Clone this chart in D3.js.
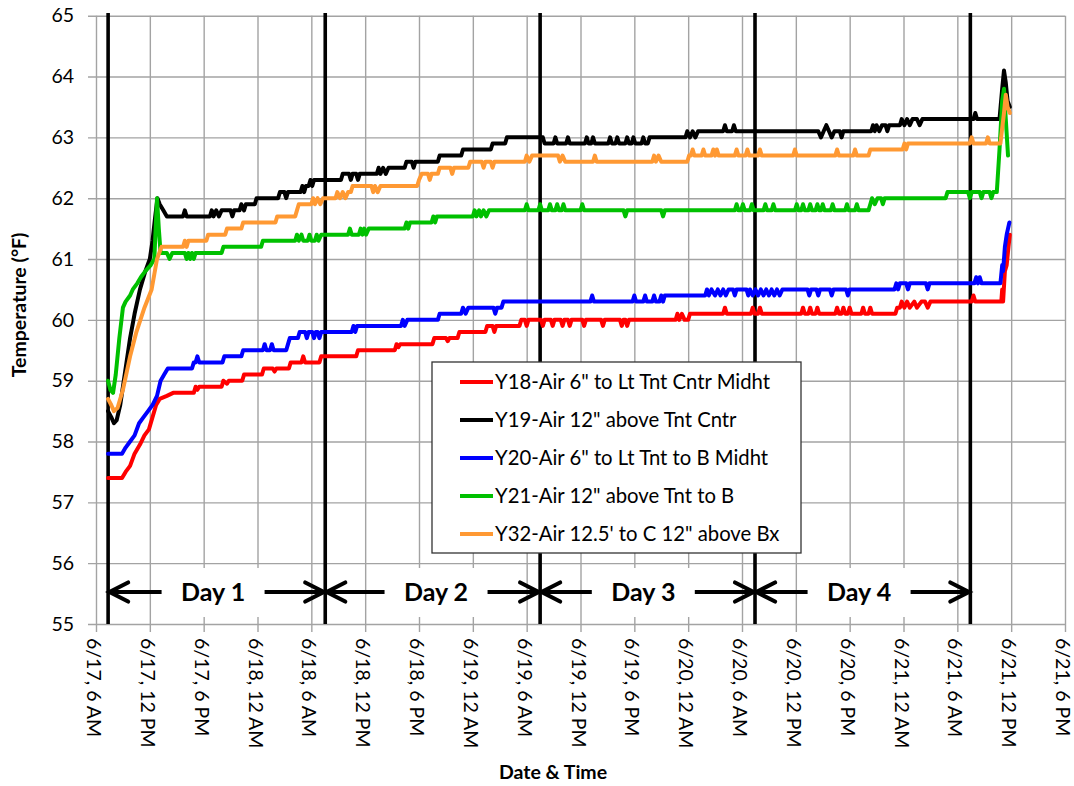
<!DOCTYPE html>
<html><head><meta charset="utf-8">
<script src="https://cdn.jsdelivr.net/npm/d3@7"></script>
<style>
body{margin:0;background:#fff}
svg{display:block}
text{font-family:Lato,"Open Sans",sans-serif;fill:#000}
</style>
</head><body>
<svg id="chart" width="1074" height="786"></svg>
<script>
// ---------- DATA (hours since 6/17 6 AM, °F) ----------
const tickLabels = ["6/17, 6 AM","6/17, 12 PM","6/17, 6 PM","6/18, 12 AM","6/18, 6 AM","6/18, 12 PM","6/18, 6 PM",
  "6/19, 12 AM","6/19, 6 AM","6/19, 12 PM","6/19, 6 PM","6/20, 12 AM","6/20, 6 AM","6/20, 12 PM","6/20, 6 PM",
  "6/21, 12 AM","6/21, 6 AM","6/21, 12 PM","6/21, 6 PM"];
const yTickValues = [55,56,57,58,59,60,61,62,63,64,65];
const seriesNames = ["Y18-Air 6\" to Lt Tnt Cntr Midht","Y19-Air 12\" above Tnt Cntr","Y20-Air 6\" to Lt Tnt to B Midht",
  "Y21-Air 12\" above Tnt to B","Y32-Air 12.5' to C 12\" above Bx"];
const seriesColors = ["#ff0000","#000000","#0000ff","#00c000","#ff9933"];
const dayLabels = ["Day 1","Day 2","Day 3","Day 4"];
const dayBoundaryHours = [1.35, 25.55, 49.5, 73.45, 97.45];
const dayLabelHours = [13.05, 37.9, 61.0, 85.05];

const y18 = [[1.34,57.4],[2.9,57.4],[3.3,57.5],[3.8,57.6],[4.3,57.8],[4.9,57.95],[5.4,58.1],[5.9,58.2],[6.3,58.4],[6.7,58.6],[7.1,58.7],[7.9,58.75],[8.6,58.8],[10.9,58.8],[11.1,58.9],[11.3,58.85],[11.5,58.9],[14.0,58.9],[14.2,59.0],[14.6,58.95],[14.8,59.0],[16.3,59.0],[16.5,59.1],[18.5,59.1],[18.7,59.2],[19.7,59.2],[19.9,59.15],[20.1,59.2],[21.5,59.2],[21.7,59.3],[22.9,59.3],[23.1,59.4],[23.3,59.3],[24.9,59.3],[25.1,59.4],[29.0,59.4],[29.2,59.5],[33.3,59.5],[33.5,59.6],[33.7,59.55],[33.9,59.6],[37.5,59.6],[37.7,59.7],[39.0,59.7],[39.2,59.65],[39.4,59.7],[40.3,59.7],[40.5,59.8],[43.4,59.8],[43.6,59.9],[44.2,59.9],[44.4,59.8],[44.6,59.9],[47.2,59.9],[47.4,60.0],[47.8,60.0],[48.0,59.9],[48.2,60.0],[49.6,60.0],[49.8,59.9],[50.0,60.0],[50.7,60.0],[50.9,59.9],[51.1,60.0],[51.8,60.0],[52.0,59.9],[52.2,60.0],[52.6,60.0],[52.8,59.9],[53.0,60.0],[54.2,60.0],[54.4,59.9],[54.6,60.0],[56.3,60.0],[56.5,59.9],[56.7,60.0],[58.4,60.0],[58.6,59.9],[58.8,60.0],[59.0,60.0],[59.2,59.9],[59.4,60.0],[64.6,60.0],[64.8,60.1],[65.0,60.0],[65.3,60.1],[65.6,60.0],[66.0,60.0],[66.2,60.1],[69.9,60.1],[70.1,60.2],[70.3,60.1],[73.0,60.1],[73.2,60.2],[73.4,60.1],[73.8,60.1],[74.0,60.2],[74.2,60.1],[78.6,60.1],[78.8,60.2],[79.0,60.1],[79.4,60.1],[79.6,60.2],[79.8,60.1],[80.2,60.1],[80.4,60.2],[80.6,60.1],[82.4,60.1],[82.6,60.2],[82.8,60.1],[83.1,60.1],[83.3,60.2],[83.5,60.1],[83.8,60.1],[84.0,60.2],[84.2,60.1],[85.3,60.1],[85.5,60.2],[85.7,60.1],[86.1,60.1],[86.3,60.2],[86.5,60.1],[89.1,60.1],[89.3,60.2],[89.6,60.2],[89.8,60.3],[90.1,60.2],[90.4,60.3],[90.7,60.2],[91.2,60.3],[91.5,60.2],[92.0,60.3],[92.4,60.3],[92.7,60.2],[93.0,60.3],[97.6,60.3],[97.8,60.4],[98.0,60.3],[100.9,60.3],[101.0,60.5],[101.1,60.3],[101.3,60.8],[101.5,60.9],[101.7,61.2],[101.85,61.4]];

const y19 = [[1.34,58.5],[1.7,58.4],[2.0,58.3],[2.3,58.35],[2.7,58.6],[3.2,59.1],[3.8,59.7],[4.3,60.1],[4.9,60.5],[5.5,60.8],[6.0,61.0],[6.3,61.3],[6.6,61.7],[6.85,62.0],[7.1,61.9],[7.5,61.8],[7.9,61.7],[9.7,61.7],[9.9,61.8],[10.1,61.7],[12.7,61.7],[12.9,61.8],[13.1,61.7],[13.4,61.8],[13.7,61.7],[14.0,61.8],[15.0,61.8],[15.2,61.7],[15.4,61.8],[16.0,61.8],[16.2,61.9],[16.5,61.8],[16.7,61.9],[17.7,61.9],[17.9,62.0],[20.3,62.0],[20.5,62.1],[21.0,62.1],[21.2,62.0],[21.4,62.1],[22.8,62.1],[23.0,62.2],[23.2,62.1],[23.4,62.2],[23.7,62.2],[23.9,62.3],[24.1,62.2],[24.3,62.3],[27.3,62.3],[27.5,62.4],[28.2,62.4],[28.4,62.3],[28.6,62.4],[29.0,62.4],[29.2,62.3],[29.4,62.4],[31.3,62.4],[31.5,62.5],[31.7,62.4],[32.0,62.5],[32.3,62.4],[32.6,62.5],[34.4,62.5],[34.6,62.6],[35.2,62.6],[35.4,62.5],[35.6,62.6],[38.1,62.6],[38.3,62.7],[40.7,62.7],[40.9,62.8],[44.0,62.8],[44.2,62.9],[45.6,62.9],[45.8,63.0],[49.8,63.0],[50.0,62.9],[51.0,62.9],[51.2,63.0],[51.4,62.9],[52.4,62.9],[52.6,63.0],[52.8,62.9],[54.5,62.9],[54.7,63.0],[54.9,62.9],[55.2,62.9],[55.4,63.0],[55.6,62.9],[57.1,62.9],[57.3,63.0],[57.5,62.9],[57.9,62.9],[58.1,63.0],[58.3,62.9],[59.0,62.9],[59.2,63.0],[59.4,62.9],[59.7,62.9],[59.9,63.0],[60.1,62.9],[60.8,62.9],[61.0,63.0],[61.2,62.9],[61.5,62.9],[61.7,63.0],[65.7,63.0],[65.9,63.1],[66.2,63.0],[66.5,63.1],[66.8,63.0],[67.1,63.1],[69.9,63.1],[70.1,63.2],[70.3,63.1],[70.9,63.1],[71.1,63.2],[71.3,63.1],[80.5,63.1],[80.8,63.0],[81.1,63.1],[81.4,63.2],[81.7,63.1],[82.0,63.0],[82.3,63.1],[82.9,63.1],[83.1,63.0],[83.3,63.1],[86.4,63.1],[86.6,63.2],[86.8,63.1],[87.0,63.2],[87.3,63.1],[87.6,63.2],[88.0,63.2],[88.2,63.1],[88.4,63.2],[89.6,63.2],[89.8,63.3],[90.1,63.2],[90.4,63.3],[90.7,63.2],[91.0,63.3],[91.5,63.3],[91.8,63.2],[92.1,63.3],[97.8,63.3],[98.0,63.4],[98.2,63.3],[100.7,63.3],[101.0,63.8],[101.2,64.1],[101.4,63.9],[101.6,63.6],[101.85,63.5]];

const y20 = [[1.34,57.8],[2.9,57.8],[3.3,57.9],[3.8,58.0],[4.3,58.1],[4.8,58.3],[5.3,58.4],[5.8,58.5],[6.3,58.6],[6.8,58.75],[7.2,59.0],[7.6,59.1],[8.0,59.2],[10.7,59.2],[10.9,59.3],[11.1,59.3],[11.3,59.4],[11.5,59.3],[14.1,59.3],[14.3,59.4],[16.2,59.4],[16.4,59.5],[18.6,59.5],[18.8,59.6],[19.0,59.5],[19.4,59.5],[19.6,59.6],[19.8,59.5],[21.2,59.5],[21.4,59.6],[21.6,59.7],[22.5,59.7],[22.7,59.8],[23.3,59.8],[23.5,59.7],[23.7,59.8],[24.1,59.8],[24.3,59.7],[24.5,59.8],[24.7,59.8],[24.9,59.7],[25.1,59.8],[28.5,59.8],[28.7,59.9],[28.9,59.8],[29.1,59.9],[34.0,59.9],[34.2,60.0],[34.4,59.9],[34.7,60.0],[38.1,60.0],[38.3,60.1],[40.7,60.1],[40.9,60.2],[41.2,60.1],[41.5,60.2],[44.3,60.2],[44.5,60.1],[44.7,60.2],[45.2,60.2],[45.4,60.3],[55.1,60.3],[55.3,60.4],[55.5,60.3],[59.8,60.3],[60.0,60.4],[60.2,60.3],[61.0,60.3],[61.2,60.4],[61.4,60.3],[62.0,60.3],[62.2,60.4],[62.4,60.3],[62.8,60.3],[63.0,60.4],[63.2,60.3],[63.4,60.4],[67.9,60.4],[68.1,60.5],[68.3,60.4],[68.6,60.5],[69.0,60.4],[69.3,60.5],[69.6,60.4],[69.9,60.5],[70.2,60.4],[70.5,60.5],[71.0,60.5],[71.2,60.4],[71.4,60.5],[72.5,60.5],[72.7,60.4],[72.9,60.5],[73.2,60.4],[73.5,60.5],[73.8,60.4],[74.1,60.5],[74.4,60.4],[74.7,60.5],[75.0,60.4],[75.3,60.5],[75.6,60.4],[75.9,60.5],[76.2,60.4],[76.5,60.5],[79.3,60.5],[79.5,60.4],[79.7,60.5],[80.3,60.5],[80.5,60.4],[80.7,60.5],[81.8,60.5],[82.0,60.4],[82.2,60.5],[83.6,60.5],[83.8,60.4],[84.0,60.5],[89.0,60.5],[89.2,60.6],[89.4,60.5],[89.6,60.6],[90.3,60.6],[90.5,60.5],[90.7,60.6],[92.5,60.6],[92.7,60.5],[92.9,60.6],[97.9,60.6],[98.1,60.7],[98.3,60.6],[98.5,60.7],[98.7,60.6],[100.8,60.6],[101.0,60.9],[101.1,60.8],[101.3,61.2],[101.5,61.4],[101.8,61.6]];

const y21 = [[1.34,59.0],[1.6,58.85],[1.9,58.8],[2.2,59.1],[2.6,59.7],[3.0,60.2],[3.3,60.3],[3.8,60.4],[4.1,60.5],[4.6,60.6],[5.0,60.7],[5.5,60.8],[6.1,60.9],[6.5,61.0],[6.8,62.0],[7.0,61.5],[7.2,61.1],[7.9,61.1],[8.2,61.0],[8.5,61.1],[9.9,61.1],[10.1,61.0],[10.3,61.1],[10.5,61.0],[10.7,61.1],[10.9,61.0],[11.1,61.1],[14.0,61.1],[14.2,61.2],[18.4,61.2],[18.6,61.3],[22.2,61.3],[22.4,61.4],[22.6,61.3],[22.9,61.4],[23.1,61.3],[23.6,61.3],[23.8,61.4],[24.0,61.3],[24.4,61.3],[24.6,61.4],[24.8,61.3],[25.1,61.4],[28.1,61.4],[28.3,61.5],[28.5,61.4],[29.3,61.4],[29.5,61.5],[29.7,61.4],[29.9,61.5],[30.1,61.4],[30.4,61.5],[34.4,61.5],[34.6,61.6],[34.8,61.5],[35.0,61.6],[37.4,61.6],[37.6,61.7],[37.8,61.6],[38.0,61.7],[42.0,61.7],[42.2,61.8],[42.4,61.7],[42.7,61.8],[42.9,61.7],[43.2,61.8],[43.5,61.7],[43.8,61.8],[47.8,61.8],[48.0,61.9],[48.2,61.8],[49.3,61.8],[49.5,61.9],[49.7,61.8],[50.4,61.8],[50.6,61.9],[50.8,61.8],[51.2,61.8],[51.4,61.9],[51.6,61.8],[51.9,61.8],[52.1,61.9],[52.3,61.8],[54.0,61.8],[54.2,61.9],[54.4,61.8],[58.8,61.8],[59.0,61.7],[59.2,61.8],[63.0,61.8],[63.2,61.7],[63.4,61.8],[71.2,61.8],[71.4,61.9],[71.6,61.8],[71.9,61.8],[72.1,61.9],[72.3,61.8],[72.9,61.8],[73.1,61.9],[73.3,61.8],[74.4,61.8],[74.6,61.9],[74.8,61.8],[75.3,61.8],[75.5,61.9],[75.7,61.8],[77.9,61.8],[78.1,61.9],[78.3,61.8],[78.6,61.8],[78.8,61.9],[79.0,61.8],[79.4,61.8],[79.6,61.9],[79.8,61.8],[80.2,61.8],[80.4,61.9],[80.6,61.8],[80.8,61.8],[81.0,61.9],[81.2,61.8],[81.9,61.8],[82.1,61.9],[82.3,61.8],[83.5,61.8],[83.7,61.9],[83.9,61.8],[84.6,61.8],[84.8,61.9],[85.0,61.8],[86.1,61.8],[86.3,61.9],[86.5,62.0],[86.8,61.9],[87.1,62.0],[87.5,62.0],[87.7,61.9],[87.9,62.0],[94.7,62.0],[94.9,62.1],[97.2,62.1],[97.4,62.0],[97.6,62.1],[98.5,62.1],[98.7,62.0],[98.9,62.1],[99.6,62.1],[99.8,62.0],[100.0,62.1],[100.4,62.1],[100.7,62.8],[101.0,63.6],[101.2,63.8],[101.4,63.3],[101.65,62.7]];

const y32 = [[1.34,58.7],[1.7,58.6],[2.0,58.5],[2.4,58.55],[3.0,58.85],[3.8,59.4],[4.5,59.8],[5.4,60.2],[6.2,60.5],[6.5,60.75],[6.8,61.0],[7.3,61.2],[9.7,61.2],[9.9,61.3],[10.1,61.2],[10.3,61.3],[12.3,61.3],[12.5,61.4],[14.4,61.4],[14.6,61.5],[16.2,61.5],[16.4,61.6],[20.0,61.6],[20.2,61.7],[22.2,61.7],[22.4,61.8],[22.6,61.9],[24.0,61.9],[24.2,62.0],[24.4,61.9],[24.7,62.0],[25.0,61.9],[25.3,62.0],[26.7,62.0],[26.9,62.1],[27.2,62.0],[27.5,62.1],[27.8,62.0],[28.1,62.1],[28.4,62.1],[28.6,62.2],[30.7,62.2],[30.9,62.1],[31.1,62.2],[31.4,62.1],[31.7,62.2],[35.8,62.2],[36.0,62.3],[36.3,62.4],[37.0,62.4],[37.2,62.3],[37.4,62.4],[38.1,62.4],[38.3,62.5],[39.5,62.5],[39.7,62.4],[39.9,62.5],[41.5,62.5],[41.7,62.6],[43.0,62.6],[43.2,62.5],[43.4,62.6],[44.0,62.6],[44.2,62.5],[44.4,62.6],[47.8,62.6],[48.0,62.7],[48.3,62.6],[48.6,62.7],[51.5,62.7],[51.7,62.6],[52.0,62.7],[52.3,62.6],[55.4,62.6],[55.6,62.7],[55.8,62.6],[62.0,62.6],[62.2,62.7],[62.4,62.6],[62.7,62.7],[63.0,62.6],[65.9,62.6],[66.1,62.7],[66.3,62.7],[66.5,62.8],[66.7,62.7],[67.5,62.7],[67.7,62.8],[67.9,62.7],[68.6,62.7],[68.8,62.8],[69.0,62.7],[69.2,62.8],[69.4,62.7],[71.2,62.7],[71.4,62.8],[71.6,62.7],[72.4,62.7],[72.6,62.8],[72.8,62.7],[73.8,62.7],[74.0,62.8],[74.2,62.7],[77.7,62.7],[77.9,62.8],[78.1,62.7],[82.4,62.7],[82.6,62.8],[82.8,62.7],[84.4,62.7],[84.6,62.8],[84.8,62.7],[86.1,62.7],[86.3,62.8],[89.9,62.8],[90.1,62.9],[90.3,62.8],[90.5,62.9],[97.4,62.9],[97.6,63.0],[97.8,62.9],[99.2,62.9],[99.4,63.0],[99.6,62.9],[100.8,62.9],[101.2,63.4],[101.4,63.7],[101.6,63.5],[101.85,63.4]];

const allSeries = [y18, y19, y20, y21, y32];

// ---------- LAYOUT ----------
const svg = d3.select("#chart");
const X0 = 96, X1 = 1065, Y0 = 15.7, Y1 = 624, TICK = 8;
const x = d3.scaleLinear().domain([0, 108]).range([X0, X1]);
const y = d3.scaleLinear().domain([55, 65]).range([Y1, Y0]);
const gridColor = "#a3a3a3";

// x axis with gridlines
const xAxis = d3.axisBottom(x)
  .tickValues(d3.range(0, 109, 6))
  .tickFormat((d, i) => tickLabels[i])
  .tickSizeInner(-(Y1 - Y0 + TICK)).tickSizeOuter(0).tickPadding(6);
const gx = svg.append("g").attr("transform", `translate(0,${Y1 + TICK})`).call(xAxis);
gx.select(".domain").remove();
gx.selectAll(".tick line").attr("stroke", gridColor).attr("stroke-width", 1.4);
gx.selectAll(".tick text")
  .attr("transform", "rotate(90)")
  .attr("x", 6).attr("y", 0).attr("dy", "0.48em")
  .style("text-anchor", "start")
  .style("font-family", "Lato")
  .style("font-size", "19.5px");

// y axis with gridlines
const yAxis = d3.axisLeft(y)
  .tickValues(yTickValues)
  .tickFormat(d3.format("d"))
  .tickSizeInner(-(X1 - X0 + TICK)).tickSizeOuter(0).tickPadding(14);
const gy = svg.append("g").attr("transform", `translate(${X0 - TICK},0)`).call(yAxis);
gy.select(".domain").remove();
gy.selectAll(".tick line").attr("stroke", gridColor).attr("stroke-width", 1.4);
gy.selectAll(".tick text")
  .style("font-family", "Lato")
  .style("font-size", "19.5px");

// day label white boxes (hide gridlines behind text)
const BOX_W = 103, ARROW_Y = 592;
const dayG = svg.append("g");
dayG.selectAll("rect").data(dayLabelHours).join("rect")
  .attr("x", d => x(d) - BOX_W / 2).attr("y", 568)
  .attr("width", BOX_W).attr("height", 49)
  .attr("fill", "#fff");

// bold day-boundary lines with soft grey halo
const defs = svg.append("defs");
defs.append("filter").attr("id", "blur").attr("x", "-5").attr("width", "11")
  .append("feGaussianBlur").attr("stdDeviation", 1.6);
const bl = svg.append("g");
bl.selectAll("line.sh").data(dayBoundaryHours).join("line").attr("class", "sh")
  .attr("x1", d => x(d)).attr("x2", d => x(d)).attr("y1", 12).attr("y2", Y1 + 1)
  .attr("stroke", "#8c8c8c").attr("stroke-width", 9).attr("stroke-linecap", "round")
  .attr("filter", "url(#blur)");
bl.selectAll("line.core").data(dayBoundaryHours).join("line").attr("class", "core")
  .attr("x1", d => x(d)).attr("x2", d => x(d)).attr("y1", 13).attr("y2", Y1)
  .attr("stroke", "#000").attr("stroke-width", 3.6);

// arrows + labels
dayLabels.forEach((lab, i) => {
  const bL = x(dayBoundaryHours[i]), bR = x(dayBoundaryHours[i + 1]);
  const c = x(dayLabelHours[i]);
  const L = c - BOX_W / 2, R = c + BOX_W / 2;
  const g = dayG.append("g").attr("stroke", "#000").attr("stroke-width", 4.2).attr("fill", "none");
  g.append("line").attr("x1", bL + 2).attr("x2", L).attr("y1", ARROW_Y).attr("y2", ARROW_Y);
  g.append("line").attr("x1", R).attr("x2", bR - 2).attr("y1", ARROW_Y).attr("y2", ARROW_Y);
  g.append("path").attr("d", `M${bL + 20},${ARROW_Y - 9.5}L${bL + 1.5},${ARROW_Y}L${bL + 20},${ARROW_Y + 9.5}`)
    .attr("stroke-linejoin", "miter").attr("stroke-linecap", "round");
  g.append("path").attr("d", `M${bR - 20},${ARROW_Y - 9.5}L${bR - 1.5},${ARROW_Y}L${bR - 20},${ARROW_Y + 9.5}`)
    .attr("stroke-linejoin", "miter").attr("stroke-linecap", "round");
  dayG.append("text").attr("x", c).attr("y", ARROW_Y).attr("dy", "0.36em")
    .attr("text-anchor", "middle").style("font-weight", "bold").style("font-size", "25px")
    .text(lab);
});

// series lines
const line = d3.line().x(d => x(d[0])).y(d => y(d[1]));
svg.append("g").selectAll("path").data(allSeries).join("path")
  .attr("d", line).attr("fill", "none")
  .attr("stroke", (d, i) => seriesColors[i])
  .attr("stroke-width", 4).attr("stroke-linejoin", "round").attr("stroke-linecap", "round");

// legend
const lg = svg.append("g").attr("transform", "translate(432,362)");
lg.append("rect").attr("x", 0).attr("y", 0).attr("width", 369).attr("height", 191)
  .attr("fill", "#fff").attr("stroke", "#333").attr("stroke-width", 1.3);
const items = lg.selectAll("g.it").data(seriesNames).join("g").attr("class", "it")
  .attr("transform", (d, i) => `translate(0,${20 + i * 38})`);
items.append("line").attr("x1", 28).attr("x2", 61).attr("y1", 0).attr("y2", 0)
  .attr("stroke", (d, i) => seriesColors[i]).attr("stroke-width", 4);
items.append("text").attr("x", 63).attr("y", 0).attr("dy", "0.36em")
  .style("font-size", "20.3px").text(d => d);

// axis titles
svg.append("text").attr("transform", "translate(19,305) rotate(-90)")
  .attr("text-anchor", "middle").attr("dy", "0.36em")
  .style("font-weight", "bold").style("font-size", "19.5px").text("Temperature (°F)");
svg.append("text").attr("x", 553).attr("y", 772).attr("dy", "0.36em")
  .attr("text-anchor", "middle").style("font-weight", "bold").style("font-size", "19.5px")
  .text("Date & Time");
</script>
</body></html>
